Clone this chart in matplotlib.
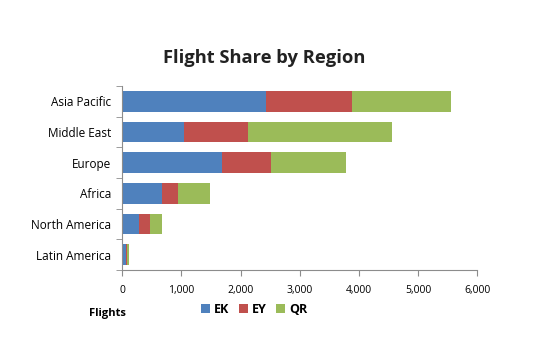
import matplotlib.pyplot as plt
import numpy as np

regions = ["Asia Pacific", "Middle East", "Europe", "Africa", "North America", "Latin America"]
ek = [2430, 1040, 1680, 680, 290, 70]
ey = [1445, 1085, 840, 270, 175, 20]
qr = [1680, 2440, 1260, 535, 205, 25]
series = ["EK", "EY", "QR"]
colors = ["#4F81BD", "#C0504D", "#9BBB59"]

plt.rcParams["font.family"] = ["Open Sans", "DejaVu Sans"]

fig = plt.figure(figsize=(5.5, 3.39), dpi=100)
ax = fig.add_axes([0.222, 0.2035, 0.646, 0.5425])

y = np.arange(len(regions))[::-1]
left = np.zeros(len(regions))
for name, vals, col in zip(series, [ek, ey, qr], colors):
    ax.barh(y, vals, left=left, height=0.67, color=col, label=name)
    left += np.array(vals)

ax.set_xlim(0, 6000)
ax.set_ylim(-0.5, len(regions) - 0.5)
ax.set_xticks(np.arange(0, 6001, 1000))
ax.set_xticklabels([f"{v:,}" for v in range(0, 6001, 1000)])
ax.set_yticks(y)
ax.set_yticklabels(regions)
ax.set_yticks(np.arange(-0.5, len(regions), 1), minor=True)

for s in ["top", "right"]:
    ax.spines[s].set_visible(False)
for s in ["left", "bottom"]:
    ax.spines[s].set_color("#8c8c8c")
    ax.spines[s].set_linewidth(0.8)
ax.tick_params(axis="y", which="major", length=0, labelsize=8.5, pad=8)
ax.tick_params(axis="y", which="minor", length=4, color="#8c8c8c")
ax.tick_params(axis="x", length=4, color="#8c8c8c", labelsize=7.5, pad=7)

fig.text(0.48, 0.83, "Flight Share by Region", ha="center", va="center",
         fontsize=13.2, fontweight="bold", color="#222222")
fig.text(0.162, 0.076, "Flights", ha="left", va="center",
         fontsize=8, fontweight="bold")

leg = ax.legend(loc="center", bbox_to_anchor=(0.462, 0.088), bbox_transform=fig.transFigure,
                ncol=3, frameon=False, fontsize=9, handlelength=0.7, handleheight=0.7,
                handletextpad=0.3, columnspacing=0.8, prop={"weight": "bold", "size": 9})

fig.savefig("out.png", dpi=100, facecolor="white")
